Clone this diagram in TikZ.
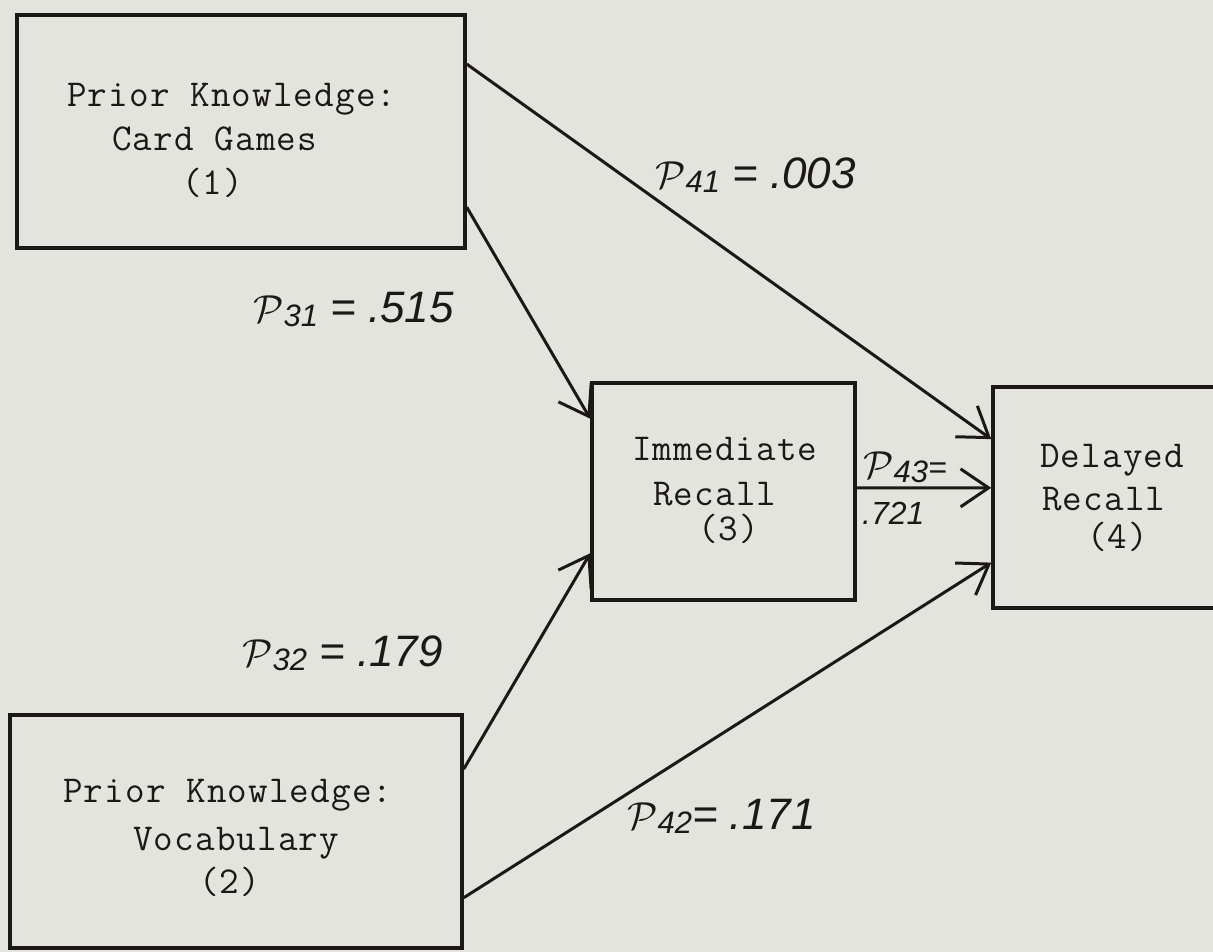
\documentclass[tikz,border=0pt]{standalone}
\usepackage{graphicx}
\usepackage{fontspec}
\newfontfamily\tw{Latin Modern Mono}[LetterSpace=3]
\newfontfamily\hand{Liberation Sans}
\usetikzlibrary{arrows.meta,calc}
\definecolor{paper}{RGB}{227,228,221}
\definecolor{ink}{RGB}{28,24,22}
\newcommand\pcoef[1]{\scalebox{3.9}{\normalsize$\mathcal{P}$}\raisebox{-4pt}{\fontsize{31}{31}\selectfont #1}}
\begin{document}
\begin{tikzpicture}[x=1pt,y=-1pt,
  box/.style={draw=ink, line width=3.5pt, inner sep=0pt},
  tt/.style={font=\tw\fontsize{38}{44}\selectfont, text=ink, anchor=base west, inner sep=0pt},
  lab/.style={font=\hand\itshape\fontsize{44}{44}\selectfont, text=ink, anchor=base west, inner sep=0pt},
  conn/.style={draw=ink, line width=3pt, -{Straight Barb[length=28pt,width=38pt,line width=3pt]}}
]
\fill[paper] (0,0) rectangle (1213,952);
\useasboundingbox (0,0) rectangle (1213,952);

% boxes
\node[box, minimum width=448pt, minimum height=233pt] (c1) at (241,131.5) {};
\node[box, minimum width=452pt, minimum height=233pt] (c2) at (236,831.5) {};
\node[box, minimum width=263pt, minimum height=217pt] (c3) at (723.5,491.5) {};
\node[box, minimum width=237pt, minimum height=221pt] (c4) at (1111.5,497.5) {};

% box texts
\node[tt] (t1a) at (67,107) {Prior Knowledge:};
\node[tt] (t1b) at (112,151) {Card Games};
\node[tt] (t1c) at (182,195) {(1)};
\node[tt] (t2a) at (63,802) {Prior Knowledge:};
\node[tt] (t2b) at (133,850) {Vocabulary};
\node[tt] (t2c) at (199,893) {(2)};
\node[tt] (t3a) at (632,460) {Immediate};
\node[tt] (t3b) at (653,505) {Recall};
\node[tt] (t3c) at (698,540) {(3)};
\node[tt] (t4a) at (1040,467) {Delayed};
\node[tt] (t4b) at (1042,510) {Recall};
\node[tt] (t4c) at (1087,548) {(4)};

% connectors
\draw[conn] ($(c1.north east)!0.215!(c1.south east)$) -- ($(c4.north west)!0.24!(c4.south west)$);
\draw[conn] ($(c1.north east)!0.82!(c1.south east)$) -- ($(c3.north west)!0.17!(c3.south west)$);
\draw[conn] ($(c2.north east)!0.236!(c2.south east)$) -- ($(c3.north west)!0.78!(c3.south west)$);
\draw[conn] ($(c2.north east)!0.78!(c2.south east)$) -- ($(c4.north west)!0.79!(c4.south west)$);
\draw[conn] ($(c3.north east)!0.484!(c3.south east)$) -- ($(c4.north west)!0.457!(c4.south west)$);

% coefficient labels
\node[lab] (l41) at (655,189) {\pcoef{41} = .003};
\node[lab] (l31) at (253,322) {\pcoef{31} = .515};
\node[lab] (l32) at (242,666) {\pcoef{32} = .179};
\node[lab] (l42) at (627,829) {\pcoef{42}= .171};
\node[lab, font=\hand\itshape\fontsize{32}{32}\selectfont] (l43a) at (863,478) {\pcoef{43}=};
\node[lab, font=\hand\itshape\fontsize{32}{32}\selectfont] (l43b) at (862,524) {.721};
\end{tikzpicture}
\end{document}
